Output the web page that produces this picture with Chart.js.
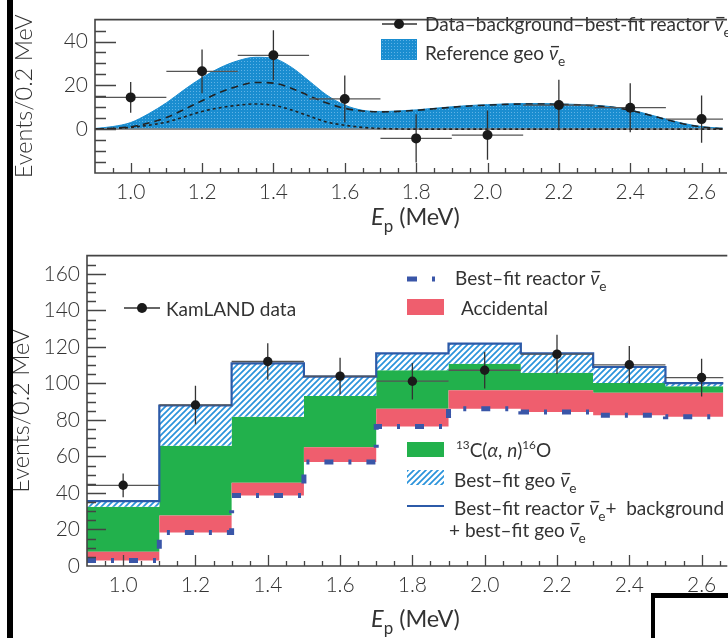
<!DOCTYPE html>
<html>
<head>
<meta charset="utf-8">
<script src="https://cdn.jsdelivr.net/npm/chart.js@4.4.1/dist/chart.umd.min.js"></script>
<style>
  html, body { margin: 0; padding: 0; background: #fff; }
  body { width: 728px; height: 638px; position: relative; overflow: hidden; }
  canvas { position: absolute; left: 0; }
  #geoChart { top: 0; }
  #spectrumChart { top: 236px; }
  .edge { position: absolute; border-color: #000; border-style: solid; border-width: 0; }
</style>
</head>
<body>
<canvas id="geoChart" width="728" height="236"></canvas>
<canvas id="spectrumChart" width="728" height="402"></canvas>
<div class="edge" style="left:7px;top:0;width:0;height:638px;border-left-width:6px"></div>
<div class="edge" style="left:651px;top:593px;width:100px;height:60px;border-left-width:4px;border-top-width:5px"></div>
<script>
const FONT = "Lato, 'DejaVu Sans', sans-serif";
const INK = '#333';
const KEY_SIZE = 19;
const TITLE_SIZE = 23.5;

// upper panel: geo-neutrino expectation and background-subtracted data
const geoE = [0.90, 0.95, 1.00, 1.05, 1.10, 1.15, 1.20, 1.25, 1.30, 1.35, 1.40, 1.45, 1.50, 1.55, 1.60,
              1.65, 1.70, 1.75, 1.80, 1.85, 1.90, 1.95, 2.00, 2.05, 2.10, 2.15, 2.20, 2.25, 2.30, 2.35,
              2.40, 2.45, 2.50, 2.55, 2.60, 2.65, 2.70];
const geoTotal = [0.3, 1.2, 3.0, 7.0, 12.0, 18.0, 23.5, 28.0, 31.2, 32.8, 32.3, 28.3, 22.0, 15.5, 11.0,
                  8.6, 8.1, 8.3, 8.8, 9.5, 10.2, 10.8, 11.2, 11.5, 11.7, 11.7, 11.5, 11.3, 10.9, 10.2,
                  8.8, 6.8, 4.6, 2.6, 1.2, 0.5, 0.2];
const geoU = [0.1, 0.4, 1.1, 2.8, 5.3, 9.0, 13.0, 16.8, 19.6, 21.3, 21.0, 18.7, 15.2, 11.9, 9.5,
              8.3, 7.9, 8.1, 8.6, 9.3, 10.0, 10.6, 11.0, 11.3, 11.5, 11.5, 11.3, 11.1, 10.7, 10.0,
              8.6, 6.6, 4.4, 2.4, 1.0, 0.3, 0.1];
const geoTh = [0.1, 0.3, 0.8, 1.8, 3.2, 5.6, 8.1, 9.8, 10.9, 11.5, 10.9, 8.8, 6.0, 3.2, 1.8,
               0.8, 0.3, 0.1, 0.0, 0.0, 0.0, 0.0, 0.0, 0.0, 0.0, 0.0, 0.0, 0.0, 0.0, 0.0,
               0.0, 0.0, 0.0, 0.0, 0.0, 0.0, 0.0];
const subE = [1.0, 1.2, 1.4, 1.6, 1.8, 2.0, 2.2, 2.4, 2.6];
const subN = [14.5, 26.4, 33.7, 13.8, -4.2, -2.7, 11.0, 9.8, 4.6];
const subErr = [7.0, 10.0, 11.4, 10.7, 11.0, 11.2, 11.5, 11.2, 10.8];
const geoYTicks = [0, 20, 40];

// lower panel: prompt energy spectrum, 0.2 MeV bins
const binEdges = [0.9, 1.1, 1.3, 1.5, 1.7, 1.9, 2.1, 2.3, 2.5, 2.7];
const reactorBins = [3.0, 18.4, 38.6, 57.0, 76.4, 86.1, 84.3, 82.6, 81.7];
const accidentalBins = [4.8, 9.3, 7.0, 8.0, 9.7, 10.2, 12.0, 12.3, 13.2];
const carbonBins = [24.6, 38.2, 36.1, 28.1, 21.1, 14.4, 9.5, 5.3, 3.5];
const geoFitBins = [3.1, 22.0, 29.3, 10.6, 9.2, 11.1, 10.6, 8.8, 1.8];
const kamE = [1.0, 1.2, 1.4, 1.6, 1.8, 2.0, 2.2, 2.4, 2.6];
const kamN = [44.2, 88.2, 112.0, 104.0, 101.2, 107.2, 116.0, 110.2, 103.2];
const kamErr = [6.5, 10.5, 10.0, 10.0, 10.0, 10.0, 10.7, 10.3, 10.3];
const spectrumYTicks = [0, 20, 40, 60, 80, 100, 120, 140, 160];

const xTicks = [1.0, 1.2, 1.4, 1.6, 1.8, 2.0, 2.2, 2.4, 2.6];

Chart.defaults.font.family = FONT;
Chart.defaults.color = INK;

const pts = (xs, ys) => xs.map((x, i) => ({x, y: ys[i]}));
// histogram as a stepped line: one point per left edge plus the closing edge
const steps = vals => binEdges.map((x, i) => ({x, y: vals[Math.min(i, vals.length - 1)]}));
const addUp = (a, b) => a.map((v, i) => v + b[i]);

const accTop = addUp(reactorBins, accidentalBins);
const carbonTop = addUp(accTop, carbonBins);
const totalTop = addUp(carbonTop, geoFitBins);

function dotPattern() {
  const c = document.createElement('canvas');
  c.width = 3; c.height = 3;
  const g = c.getContext('2d');
  g.fillStyle = '#1a8dd0';
  g.fillRect(0, 0, 3, 3);
  g.fillStyle = '#5fb2e6';
  g.fillRect(1, 1, 1, 1);
  return g.createPattern(c, 'repeat');
}

function hatchPattern() {
  const s = 6;
  const c = document.createElement('canvas');
  c.width = s; c.height = s;
  const g = c.getContext('2d');
  g.fillStyle = '#fff';
  g.fillRect(0, 0, s, s);
  g.strokeStyle = '#2a93db';
  g.lineWidth = 1.7;
  g.beginPath();
  g.moveTo(-1, s + 1); g.lineTo(s + 1, -1);
  g.moveTo(-1, 1); g.lineTo(1, -1);
  g.moveTo(s - 1, s + 1); g.lineTo(s + 1, s - 1);
  g.stroke();
  return g.createPattern(c, 'repeat');
}

// text runs: '' plain, 'i' italic, 'sub', 'sup', 'bar' italic with overbar
function rich(ctx, x, y, runs, size) {
  let cx = x;
  ctx.textBaseline = 'alphabetic';
  ctx.textAlign = 'left';
  for (const [t, kind] of runs) {
    let fs = size, dy = 0, style = '';
    if (kind === 'sub') { fs = size * 0.72; dy = size * 0.3; }
    if (kind === 'sup') { fs = size * 0.62; dy = -size * 0.4; }
    if (kind === 'i' || kind === 'bar') style = 'italic ';
    ctx.font = style + fs + 'px ' + FONT;
    ctx.fillText(t, cx, y + dy);
    const w = ctx.measureText(t).width;
    if (kind === 'bar') ctx.fillRect(cx + 2, y - size * 0.74, w - 1, 1.4);
    cx += w;
  }
  return cx;
}

const nuBar = [['ν', 'bar'], ['e', 'sub']];

function makeFrame(o) {
  return {
    id: 'frame',
    afterDatasetsDraw(chart) {
      const {ctx, chartArea: a, scales: {x, y}} = chart;
      ctx.save();
      ctx.strokeStyle = '#444';
      ctx.lineWidth = 1.6;
      ctx.beginPath();
      ctx.moveTo(a.right + 4, a.top);
      ctx.lineTo(a.left, a.top);
      ctx.lineTo(a.left, a.bottom);
      ctx.lineTo(a.right + 4, a.bottom);
      ctx.stroke();
      ctx.lineWidth = 1.3;
      ctx.beginPath();
      for (let k = Math.ceil(y.min / 5) + 1; k * 5 < y.max; k++) {
        const py = Math.round(y.getPixelForValue(k * 5)) + 0.5;
        ctx.moveTo(a.left, py);
        ctx.lineTo(a.left + (k % 4 === 0 ? o.yMajor : o.yMinor), py);
      }
      for (let k = 19; k * 0.05 < x.max; k++) {
        const px = Math.round(x.getPixelForValue(k * 0.05)) + 0.5;
        ctx.moveTo(px, a.bottom);
        ctx.lineTo(px, a.bottom - (k % 4 === 0 ? o.xMajor : o.xMinor));
      }
      ctx.stroke();
      ctx.restore();
    }
  };
}

const errorBars = {
  id: 'errorBars',
  beforeDatasetDraw(chart, args) {
    const ds = chart.data.datasets[args.index];
    const {ctx, chartArea: a, scales: {x, y}} = chart;
    ctx.save();
    ctx.beginPath();
    ctx.rect(a.left, a.top, a.right - a.left, a.bottom - a.top);
    ctx.clip();
    if (ds.zeroLine) {
      const py = y.getPixelForValue(0);
      ctx.strokeStyle = '#8a8a8a';
      ctx.lineWidth = 1.6;
      ctx.beginPath();
      ctx.moveTo(a.left, py);
      ctx.lineTo(a.right, py);
      ctx.stroke();
    }
    if (ds.errors) {
      ctx.lineWidth = 1.3;
      ds.data.forEach((p, i) => {
        const px = x.getPixelForValue(p.x);
        const py = y.getPixelForValue(p.y);
        ctx.strokeStyle = '#555';
        ctx.beginPath();
        ctx.moveTo(x.getPixelForValue(p.x - 0.1), py);
        ctx.lineTo(x.getPixelForValue(p.x + 0.1), py);
        ctx.stroke();
        ctx.strokeStyle = '#333';
        ctx.beginPath();
        ctx.moveTo(px, y.getPixelForValue(p.y - ds.errors[i]));
        ctx.lineTo(px, y.getPixelForValue(p.y + ds.errors[i]));
        ctx.stroke();
      });
    }
    ctx.restore();
  }
};

function xScale(height) {
  return {
    type: 'linear', min: 0.9, max: 2.66,
    afterBuildTicks: s => { s.ticks = xTicks.map(v => ({value: v})); },
    afterFit: s => { s.height = height; },
    grid: {display: false, drawTicks: false},
    border: {display: false},
    ticks: {font: {size: 21, weight: '300'}, color: INK, padding: 7, maxRotation: 0, autoSkip: false,
            callback: v => v.toFixed(1)}
  };
}

function yScale(min, max, tickList, width, titlePad) {
  return {
    min, max,
    afterBuildTicks: s => { s.ticks = tickList.map(v => ({value: v})); },
    afterFit: s => { s.width = width; },
    grid: {display: false, drawTicks: false},
    border: {display: false},
    ticks: {font: {size: 21, weight: '300'}, color: INK, padding: 7, autoSkip: false},
    title: {display: true, text: 'Events/0.2 MeV', font: {size: TITLE_SIZE, weight: '300'}, color: INK,
            padding: {top: titlePad, bottom: 0}}
  };
}

function drawAxisTitle(ctx, y) {
  ctx.save();
  ctx.fillStyle = INK;
  rich(ctx, 371, y, [['E', 'i'], ['p', 'sub'], [' (MeV)', '']], TITLE_SIZE);
  ctx.restore();
}

const geoKey = {
  id: 'geoKey',
  afterDraw(chart) {
    const ctx = chart.ctx;
    ctx.save();
    ctx.strokeStyle = '#333';
    ctx.lineWidth = 1.5;
    ctx.beginPath(); ctx.moveTo(382, 24); ctx.lineTo(417, 24); ctx.stroke();
    ctx.fillStyle = '#1a1a1a';
    ctx.beginPath(); ctx.arc(399, 24, 5, 0, Math.PI * 2); ctx.fill();
    ctx.fillStyle = dotPattern();
    ctx.fillRect(381, 39, 36, 21);
    ctx.fillStyle = INK;
    rich(ctx, 425, 31, [['Data–background–best-fit reactor ', '']].concat(nuBar), KEY_SIZE);
    rich(ctx, 425, 60, [['Reference geo ', '']].concat(nuBar), KEY_SIZE);
    drawAxisTitle(ctx, 225);
    ctx.restore();
  }
};

new Chart(document.getElementById('geoChart'), {
  type: 'line',
  data: {
    datasets: [
      {type: 'scatter', data: pts(subE, subN), errors: subErr,
       pointRadius: 5, pointBackgroundColor: '#1a1a1a', pointBorderWidth: 0},
      {data: pts(geoE, geoU), borderColor: '#222', borderWidth: 1.6, borderDash: [7, 5],
       pointRadius: 0, cubicInterpolationMode: 'monotone', fill: false},
      {data: pts(geoE, geoTh), borderColor: '#222', borderWidth: 1.6, borderDash: [3, 3],
       pointRadius: 0, cubicInterpolationMode: 'monotone', fill: false, zeroLine: true},
      {data: pts(geoE, geoTotal), borderColor: '#1a8dd0', borderWidth: 1,
       backgroundColor: dotPattern(), pointRadius: 0, cubicInterpolationMode: 'monotone', fill: 'origin'}
    ]
  },
  options: {
    responsive: false,
    animation: false,
    events: [],
    layout: {padding: {top: 7, right: 0, bottom: 0, left: 0}},
    plugins: {legend: {display: false}, tooltip: {enabled: false}},
    scales: {x: xScale(63), y: yScale(-20, 50, geoYTicks, 95, 10)}
  },
  plugins: [errorBars, makeFrame({yMajor: 21, yMinor: 11, xMajor: 10, xMinor: 5}), geoKey]
});

const spectrumKey = {
  id: 'spectrumKey',
  afterDraw(chart) {
    const ctx = chart.ctx;
    const off = 236;
    ctx.save();
    ctx.strokeStyle = '#333';
    ctx.lineWidth = 1.5;
    ctx.beginPath(); ctx.moveTo(124, 308 - off); ctx.lineTo(160, 308 - off); ctx.stroke();
    ctx.fillStyle = '#1a1a1a';
    ctx.beginPath(); ctx.arc(142, 308 - off, 5, 0, Math.PI * 2); ctx.fill();

    ctx.fillStyle = '#3a56a8';
    ctx.fillRect(407, 276.5 - off, 10, 5);
    ctx.fillRect(432, 276.5 - off, 3, 5);
    ctx.fillStyle = '#ef5e6e';
    ctx.fillRect(407, 299 - off, 37, 16);
    ctx.fillStyle = '#22b14c';
    ctx.fillRect(407, 442 - off, 37, 15);
    ctx.fillStyle = hatchPattern();
    ctx.fillRect(407, 470 - off, 37, 15);
    ctx.strokeStyle = '#2c5aa8';
    ctx.lineWidth = 2;
    ctx.beginPath(); ctx.moveTo(407, 506 - off); ctx.lineTo(444, 506 - off); ctx.stroke();

    ctx.fillStyle = INK;
    rich(ctx, 166, 316 - off, [['KamLAND data', '']], KEY_SIZE);
    rich(ctx, 455, 285 - off, [['Best–fit reactor ', '']].concat(nuBar), KEY_SIZE);
    rich(ctx, 461, 315 - off, [['Accidental', '']], KEY_SIZE);
    rich(ctx, 456, 457 - off, [['13', 'sup'], ['C(', ''], ['α', 'i'], [', ', ''], ['n', 'i'],
                               [')', ''], ['16', 'sup'], ['O', '']], KEY_SIZE);
    rich(ctx, 454, 487 - off, [['Best–fit geo ', '']].concat(nuBar), KEY_SIZE);
    rich(ctx, 454, 515 - off, [['Best–fit reactor ', '']].concat(nuBar, [['+  background', '']]), KEY_SIZE);
    rich(ctx, 449, 537 - off, [['+ best–fit geo ', '']].concat(nuBar), KEY_SIZE);
    drawAxisTitle(ctx, 627 - off);
    ctx.restore();
  }
};

new Chart(document.getElementById('spectrumChart'), {
  type: 'line',
  data: {
    datasets: [
      {type: 'scatter', data: pts(kamE, kamN), errors: kamErr,
       pointRadius: 4.7, pointBackgroundColor: '#1a1a1a', pointBorderWidth: 0},
      {data: steps(reactorBins), stepped: true, borderColor: '#3a56a8', borderWidth: 5,
       borderDash: [9, 15, 3, 15], borderCapStyle: 'butt', pointRadius: 0, fill: false},
      {data: steps(totalTop), stepped: true, borderColor: '#2c5aa8', borderWidth: 2.2,
       backgroundColor: hatchPattern(), pointRadius: 0, fill: 4},
      {data: steps(accTop), stepped: true, borderWidth: 0, backgroundColor: '#ef5e6e',
       pointRadius: 0, fill: 1},
      {data: steps(carbonTop), stepped: true, borderWidth: 0, backgroundColor: '#22b14c',
       pointRadius: 0, fill: 3}
    ]
  },
  options: {
    responsive: false,
    animation: false,
    events: [],
    layout: {padding: {top: 8, right: 0, bottom: 0, left: 0}},
    plugins: {legend: {display: false}, tooltip: {enabled: false}},
    scales: {x: xScale(72), y: yScale(0, 170, spectrumYTicks, 87, 7)}
  },
  plugins: [errorBars, makeFrame({yMajor: 19, yMinor: 9, xMajor: 11, xMinor: 5}), spectrumKey]
});
</script>
</body>
</html>
